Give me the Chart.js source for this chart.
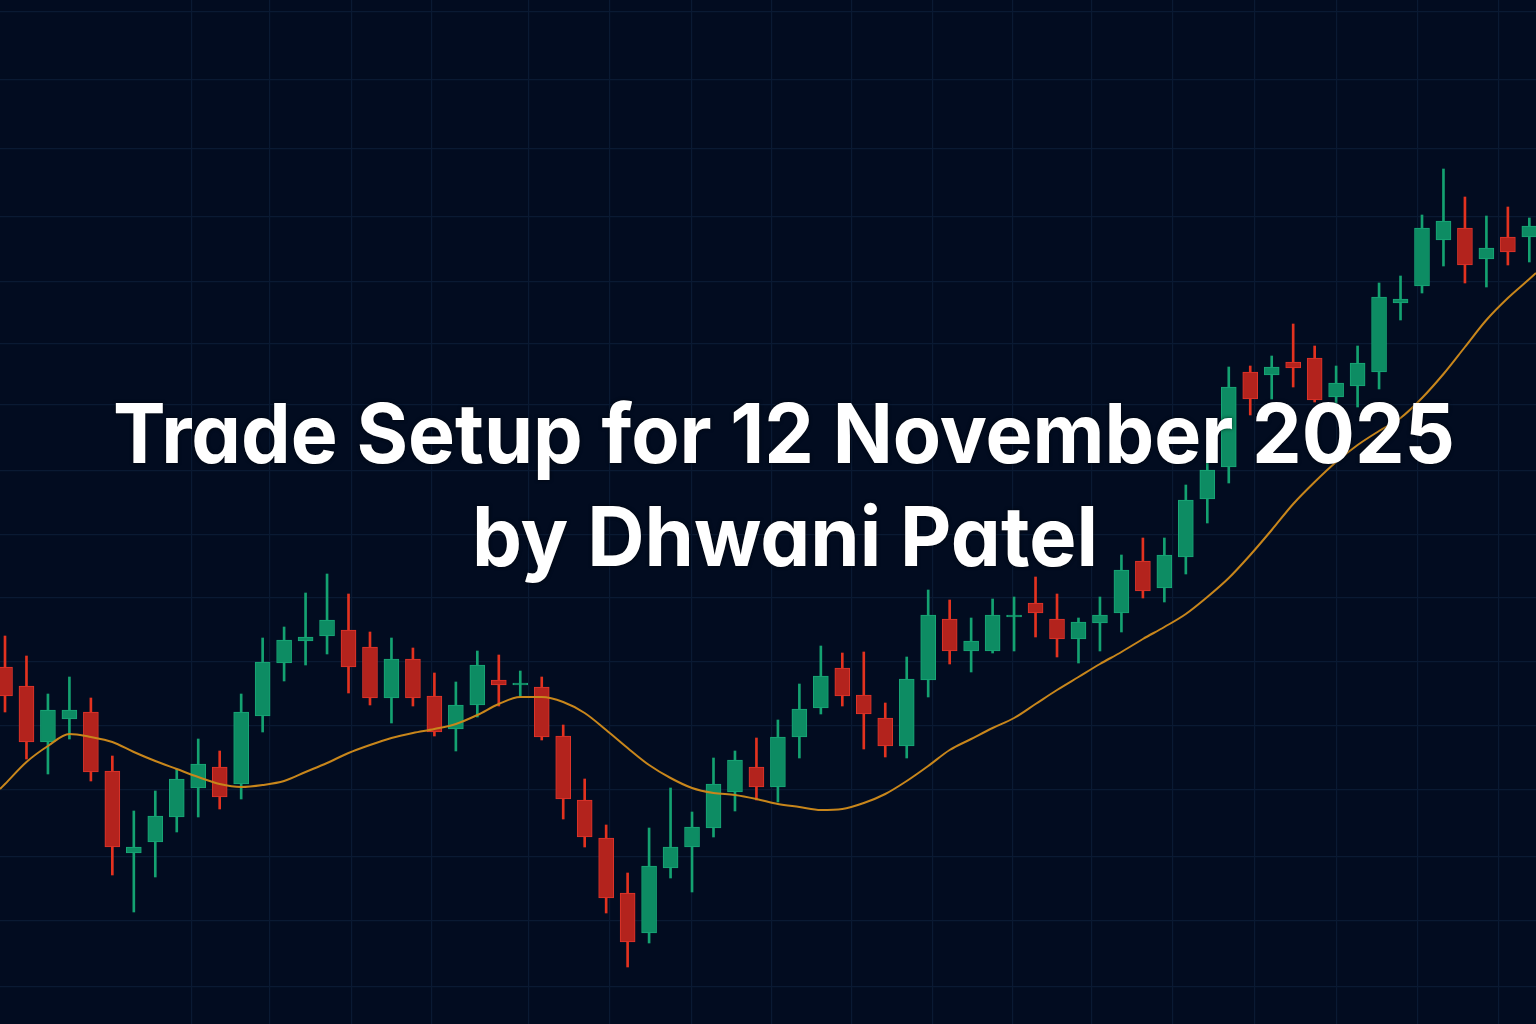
<!DOCTYPE html>
<html>
<head>
<meta charset="utf-8">
<title>Trade Setup for 12 November 2025</title>
<script src="https://cdn.jsdelivr.net/npm/chart.js@4.4.1/dist/chart.umd.min.js"></script>
<style>
    html, body { margin: 0; padding: 0; background: #020c20; overflow: hidden; }
    #wrap { position: relative; width: 1536px; height: 1024px; }
    #candleChart { position: absolute; left: 0; top: 0; }
    .headline {
        position: absolute;
        margin: 0;
        white-space: nowrap;
        font-family: Inter, "Noto Sans", sans-serif;
        font-feature-settings: "cv11" 1;
        font-weight: 700;
        font-size: 82px;
        line-height: 82px;
        color: #ffffff;
        transform-origin: 0 0;
        text-shadow: 0 0 4px rgba(0, 0, 0, 0.7);
    }
</style>
</head>
<body>
<div id="wrap">
    <canvas id="candleChart" width="1536" height="1024"></canvas>
    <div class="headline" id="line1" data-left="113" data-width="1342" data-baseline="464">Trade Setup for 12 November 2025</div>
    <div class="headline" id="line2" data-left="472" data-width="626" data-baseline="567">by Dhwani Patel</div>
</div>

<script>
// candle data (price points)
const opens  = [25433, 25414, 25358, 25381, 25388, 25329, 25247, 25258, 25283, 25312,
                25333, 25316, 25384, 25437, 25459, 25464, 25470, 25453, 25402, 25441,
                25404, 25371, 25395, 25420, 25415, 25413, 25364, 25300, 25262, 25207,
                25167, 25232, 25253, 25272, 25308, 25333, 25313, 25363, 25392, 25432,
                25405, 25382, 25354, 25420, 25481, 25449, 25449, 25483, 25497, 25481,
                25461, 25477, 25487, 25539, 25512, 25543, 25601, 25633, 25728, 25725,
                25738, 25742, 25703, 25714, 25728, 25797, 25814, 25860, 25872, 25841,
                25863, 25863];
const highs  = [25464, 25444, 25406, 25423, 25402, 25344, 25289, 25309, 25331, 25361,
                25349, 25406, 25462, 25473, 25507, 25526, 25506, 25468, 25462, 25452,
                25427, 25418, 25449, 25445, 25429, 25423, 25375, 25321, 25275, 25227,
                25272, 25312, 25288, 25342, 25349, 25362, 25380, 25416, 25454, 25447,
                25448, 25397, 25443, 25510, 25500, 25482, 25501, 25503, 25523, 25506,
                25482, 25503, 25545, 25562, 25562, 25615, 25637, 25733, 25734, 25744,
                25776, 25754, 25734, 25754, 25817, 25824, 25885, 25931, 25903, 25884,
                25893, 25882];
const lows   = [25388, 25341, 25326, 25361, 25319, 25225, 25188, 25223, 25268, 25283,
                25291, 25301, 25368, 25419, 25435, 25446, 25407, 25395, 25377, 25394,
                25364, 25349, 25383, 25394, 25403, 25360, 25281, 25253, 25187, 25133,
                25157, 25222, 25208, 25263, 25289, 25300, 25298, 25342, 25386, 25394,
                25351, 25343, 25342, 25403, 25436, 25428, 25447, 25449, 25463, 25443,
                25437, 25449, 25468, 25502, 25498, 25526, 25577, 25617, 25685, 25701,
                25713, 25698, 25697, 25693, 25711, 25780, 25807, 25834, 25817, 25813,
                25835, 25838];
const closes = [25404, 25358, 25390, 25390, 25328, 25253, 25253, 25284, 25321, 25336,
                25303, 25388, 25438, 25460, 25463, 25480, 25433, 25402, 25441, 25402,
                25368, 25395, 25435, 25415, 25417, 25363, 25301, 25263, 25202, 25158,
                25234, 25253, 25273, 25316, 25340, 25313, 25363, 25391, 25424, 25404,
                25386, 25354, 25421, 25485, 25449, 25459, 25485, 25485, 25487, 25461,
                25478, 25485, 25530, 25509, 25545, 25600, 25630, 25713, 25701, 25733,
                25732, 25700, 25717, 25737, 25803, 25801, 25872, 25879, 25835, 25852,
                25848, 25874];

// moving average, one value per candle, plus where it meets the two edges
const maValues = [25316, 25338, 25354, 25366, 25363, 25358, 25348, 25339, 25331, 25323,
                  25316, 25313, 25315, 25319, 25328, 25337, 25347, 25355, 25362, 25367,
                  25371, 25376, 25385, 25396, 25403, 25403, 25398, 25387, 25370, 25352,
                  25335, 25322, 25312, 25307, 25305, 25301, 25296, 25293, 25290, 25291,
                  25297, 25306, 25319, 25334, 25350, 25361, 25372, 25382, 25396, 25410,
                  25423, 25436, 25448, 25461, 25473, 25486, 25503, 25522, 25545, 25570,
                  25596, 25618, 25638, 25655, 25669, 25682, 25702, 25726, 25753, 25780,
                  25802, 25821];
const maLeftEdge = 25311;
const maRightEdge = 25827;

// grid positions (candle index for vertical lines, price for horizontal)
const gridX = [8.71, 12.34, 16.16, 19.89, 24.41, 28.18, 32.0, 35.72, 39.45,
               43.22, 46.95, 50.63, 54.4, 58.22, 62.04, 65.81, 69.59];
const gridY = [26088, 26020, 25951, 25883, 25818, 25756, 25695, 25629, 25565,
               25502, 25438, 25374, 25310, 25243, 25179, 25113];

const X_MIN = -0.233, X_MAX = 71.31;
const Y_MIN = 25076, Y_MAX = 26100;

document.addEventListener('DOMContentLoaded', function() {

    const UP = '#0d8c63', UP_EDGE = '#19a877', UP_WICK = '#14a271';
    const DOWN = '#b3231d', DOWN_EDGE = '#e0362b', DOWN_WICK = '#e3321f';
    const GRID = '#0a1a33';

    const isUp = opens.map((o, i) => closes[i] >= o);

    // 1. datasets
    const wicks = highs.map((h, i) => ({ x: i, y: [lows[i], h] }));
    const bodies = opens.map((o, i) => ({ x: i, y: [o, closes[i]] }));
    const ma = [{ x: X_MIN, y: maLeftEdge }]
        .concat(maValues.map((v, i) => ({ x: i, y: v })))
        .concat([{ x: X_MAX, y: maRightEdge }]);

    // axes are only kept for their grid lines
    const gridScale = (ticksList) => ({
        type: 'linear',
        offset: false,
        ticks: { display: false },
        border: { display: false },
        grid: { color: GRID, lineWidth: 1.2, drawTicks: false, offset: false },
        afterBuildTicks: (scale) => {
            scale.ticks = ticksList.map(v => ({ value: v }));
        }
    });

    const xScale = Object.assign(gridScale(gridX), { min: X_MIN, max: X_MAX });
    const yScale = Object.assign(gridScale(gridY), { min: Y_MIN, max: Y_MAX });

    // 2. chart
    new Chart(document.getElementById('candleChart'), {
        type: 'bar',
        data: {
            datasets: [
                {
                    type: 'line',
                    label: 'MA',
                    data: ma,
                    borderColor: '#c8861b',
                    borderWidth: 2,
                    pointRadius: 0,
                    tension: 0.4,
                    cubicInterpolationMode: 'monotone',
                    order: 0
                },
                {
                    label: 'Body',
                    data: bodies,
                    backgroundColor: isUp.map(u => u ? UP : DOWN),
                    borderColor: isUp.map(u => u ? UP_EDGE : DOWN_EDGE),
                    borderWidth: 1,
                    borderSkipped: false,
                    barThickness: 15,
                    grouped: false,
                    order: 1
                },
                {
                    label: 'Wick',
                    data: wicks,
                    backgroundColor: isUp.map(u => u ? UP_WICK : DOWN_WICK),
                    borderWidth: 0,
                    barThickness: 2,
                    grouped: false,
                    order: 2
                }
            ]
        },
        options: {
            responsive: false,
            animation: false,
            layout: { padding: 0 },
            plugins: {
                legend: { display: false },
                tooltip: { enabled: false }
            },
            scales: { x: xScale, y: yScale }
        }
    });

    // 3. headline: fit each line to its place in the picture
    const placeLines = () => {
        document.querySelectorAll('.headline').forEach(el => {
            const w = el.getBoundingClientRect().width;
            const target = parseFloat(el.dataset.width);
            el.style.left = el.dataset.left + 'px';
            el.style.top = (parseFloat(el.dataset.baseline) - 71) + 'px';
            el.style.transform = 'scaleX(' + (target / w) + ')';
        });
    };
    if (document.fonts && document.fonts.ready) {
        document.fonts.ready.then(placeLines);
    } else {
        placeLines();
    }
});
</script>
</body>
</html>
